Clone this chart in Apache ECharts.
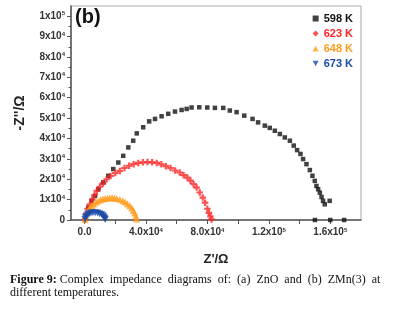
<!DOCTYPE html>
<html>
<head>
<meta charset="utf-8">
<script src="https://cdn.jsdelivr.net/npm/echarts@6/dist/echarts.min.js"></script>
<style>
  html, body { margin: 0; padding: 0; background: #fff; }
  #chart { width: 395px; height: 310px; }
</style>
</head>
<body>
<div id="chart"></div>
<script>
// legend names and colours
var seriesNames = ['598 K', '623 K', '648 K', '673 K'];
var seriesColors = ['#111111', '#ff2424', '#ff9d1f', '#1a4aa8'];

// Z' (ohm) / -Z'' (ohm) pairs
var z598 = [[1000,1200],[1700,3500],[2500,6100],[4700,9400],[6800,11800],[9000,15100],[12200,18400],
  [15500,21700],[18700,25000],[22000,28200],[25200,31500],[28500,35600],[31700,38900],[34000,42500],
  [38200,45500],[42100,48400],[45900,49600],[50200,50900],[54500,52100],[58900,53200],[63200,54000],
  [66500,54500],[69700,55200],[74700,55300],[79900,55200],[84900,55000],[90300,55000],[94600,53700],
  [99000,52900],[104000,51200],[109400,49600],[113000,47900],[117400,46300],[120600,45200],
  [123900,43800],[127200,42200],[130400,40500],[133700,38900],[136200,36500],[138400,34300],
  [140600,32400],[142300,29900],[144500,27400],[146700,24500],[148400,21700],[149900,19200],
  [151000,16700],[152100,15100],[153200,13400],[154300,11300],[155300,9400],[156400,7700],
  [159600,9400],[150000,0],[160000,0],[169000,0]];
var z623 = [[300,300],[1000,3000],[2000,5500],[3500,7700],[5000,10000],[6500,12200],[8000,14300],
  [10000,16300],[12000,18000],[14400,20000],[17000,21600],[20000,23000],[23000,24100],[26000,25500],
  [29000,26600],[32000,27400],[35000,28000],[38000,28300],[41000,28400],[44000,28300],[47000,28000],
  [50000,27300],[53000,26400],[56000,25500],[59000,24300],[62000,23300],[64500,22000],[67000,20800],
  [69000,19300],[71000,17600],[73000,15900],[75000,13500],[77000,11000],[78500,8500],[80000,5500],
  [81000,3500],[82000,1800],[82700,300]];
var z648 = [[300,200],[800,2000],[1500,3500],[2500,4800],[3500,6000],[4800,7000],[6000,7900],
  [7500,8700],[9000,9400],[10500,9900],[12000,10300],[13500,10600],[15000,10800],[16600,10900],
  [18000,10900],[19500,10800],[21000,10600],[23000,10200],[25000,9500],[26500,8800],[28000,8000],
  [29500,7000],[30800,5900],[31800,4700],[32700,3400],[33400,2000],[33900,500]];
var z673 = [[300,200],[600,1100],[1200,1900],[2000,2600],[3000,3100],[4200,3400],[5500,3500],
  [7000,3500],[8500,3400],[9800,3100],[11000,2700],[12000,2100],[12700,1500],[13200,800],[13500,200]];

// axis ticks
var xTickValues = [0, 40000, 80000, 120000, 160000];
var xTickLabels = ['0.0', '4.0x10{s|4}', '8.0x10{s|4}', '1.2x10{s|5}', '1.6x10{s|5}'];
var xMinorValues = [20000, 60000, 100000, 140000];
var yTickValues = [0, 10000, 20000, 30000, 40000, 50000, 60000, 70000, 80000, 90000, 100000];
var yTickLabels = ['0', '1x10{s|4}', '2x10{s|4}', '3x10{s|4}', '4x10{s|4}', '5x10{s|4}',
  '6x10{s|4}', '7x10{s|4}', '8x10{s|4}', '9x10{s|4}', '1x10{s|5}'];
var yMinorValues = [5000, 15000, 25000, 35000, 45000, 55000, 65000, 75000, 85000, 95000];

var chart = echarts.init(document.getElementById('chart'));

var labelRich = {
  s: { fontSize: 6, fontWeight: 'bold', color: '#333', verticalAlign: 'top', padding: [0, 0, 5, 0] }
};
var axisFont = 'Liberation Sans';

function pick(values, labels) {
  return function (v) {
    var i = values.indexOf(v);
    return i < 0 ? '' : labels[i];
  };
}

var downTri = 'path://M0,0L10,0L5,9Z';
var plus = 'path://M2,0H4V2H6V4H4V6H2V4H0V2H2Z';
var symbols = ['rect', plus, 'triangle', downTri];
var legendIcons = ['rect', 'diamond', 'triangle', downTri];
var sizes = [4.5, 6.5, 7, 7];
var datas = [z598, z623, z648, z673];

var option = {
  animation: false,
  grid: { left: 71, right: 34, top: 6, bottom: 90, show: true, borderColor: '#aaa', borderWidth: 1 },
  legend: {
    orient: 'vertical',
    right: 37,
    top: 8,
    itemGap: 4,
    itemWidth: 6,
    itemHeight: 6,
    textStyle: { fontFamily: axisFont, fontWeight: 'bold', fontSize: 11, lineHeight: 11 },
    data: seriesNames.map(function (n, i) {
      return {
        name: n,
        icon: legendIcons[i],
        textStyle: { color: seriesColors[i] }
      };
    })
  },
  xAxis: [{
    type: 'value',
    min: -8800,
    max: 180000,
    name: "Z'/Ω",
    nameLocation: 'middle',
    nameGap: 33,
    nameTextStyle: { fontFamily: axisFont, fontWeight: 'bold', fontSize: 13, color: '#222' },
    axisLine: { onZero: false, lineStyle: { color: '#555', width: 1.5 } },
    axisTick: { customValues: xTickValues.concat(xMinorValues), length: 4, lineStyle: { color: '#555' } },
    axisLabel: {
      customValues: xTickValues,
      formatter: pick(xTickValues, xTickLabels),
      margin: 7,
      fontFamily: axisFont, fontWeight: 'bold', fontSize: 10, color: '#333',
      rich: labelRich
    },
    splitLine: { show: false }
  }],
  yAxis: [{
    type: 'value',
    min: 0,
    max: 105000,
    name: "-Z''/Ω",
    nameLocation: 'middle',
    nameGap: 44,
    nameRotate: 90,
    nameTextStyle: { fontFamily: axisFont, fontWeight: 'bold', fontSize: 14, color: '#222' },
    axisLine: { show: true, onZero: false, lineStyle: { color: '#555', width: 1.5 } },
    axisTick: { customValues: yTickValues, length: 4, lineStyle: { color: '#555' } },
    axisLabel: {
      customValues: yTickValues,
      formatter: pick(yTickValues, yTickLabels),
      margin: 6,
      fontFamily: axisFont, fontWeight: 'bold', fontSize: 10, color: '#333',
      rich: labelRich
    },
    splitLine: { show: false }
  }, {
    type: 'value',
    min: 0,
    max: 105000,
    position: 'left',
    offset: 0,
    axisLine: { show: false, onZero: false },
    axisTick: { show: true, customValues: yMinorValues, length: 2.5, lineStyle: { color: '#555' } },
    axisLabel: { show: false },
    splitLine: { show: false }
  }],
  graphic: [{
    type: 'text', left: 75, top: 7,
    style: { text: '(b)', fontFamily: axisFont, fontWeight: 'bold', fontSize: 20, fill: '#111' }
  }, {
    type: 'text', left: 10, top: 273,
    style: {
      text: '{b|Figure 9:} Complex  impedance  diagrams  of:  (a)  ZnO  and  (b)  ZMn(3)  at\ndifferent temperatures.',
      fontFamily: 'Liberation Serif', fontSize: 12, lineHeight: 13, fill: '#111',
      rich: { b: { fontFamily: 'Liberation Serif', fontWeight: 'bold', fontSize: 12, fill: '#111' } }
    }
  }],
  series: seriesNames.map(function (n, i) {
    return {
      name: n,
      type: 'scatter',
      data: datas[i],
      symbol: symbols[i],
      symbolSize: sizes[i],
      itemStyle: { color: seriesColors[i] },
      z: 2 + i
    };
  })
};
chart.setOption(option);
</script>
</body>
</html>
